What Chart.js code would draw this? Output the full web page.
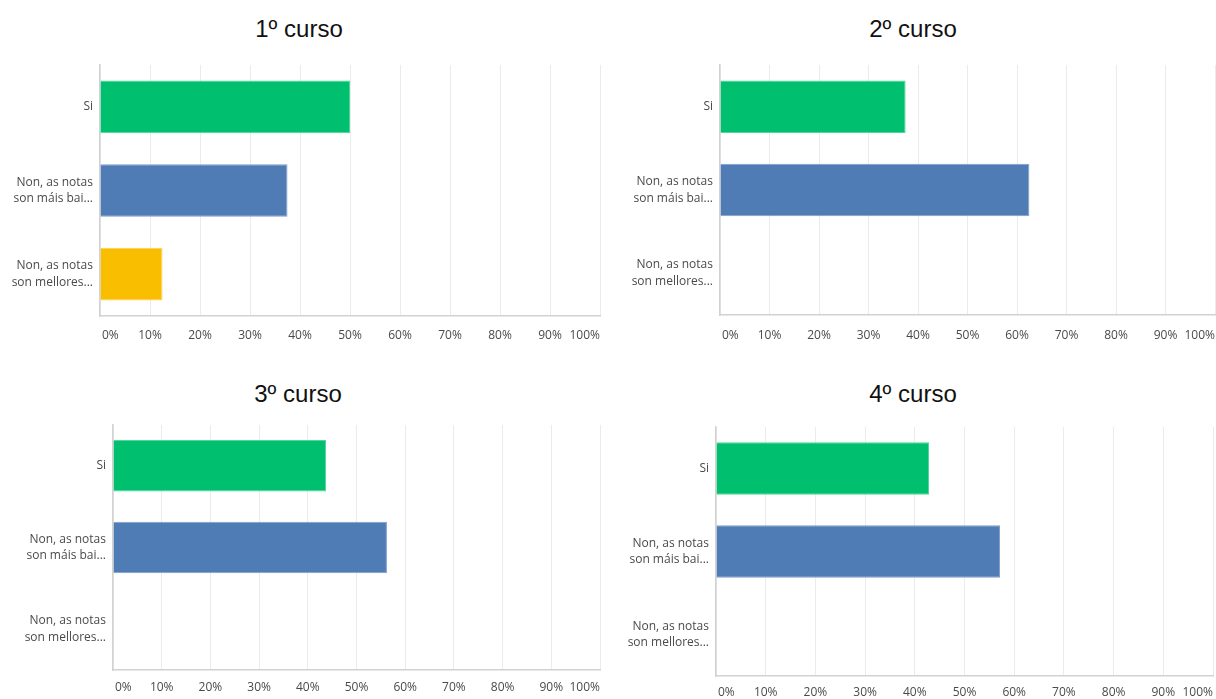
<!DOCTYPE html>
<html>
<head>
<meta charset="utf-8">
<script src="https://cdn.jsdelivr.net/npm/chart.js@4"></script>
<style>
  html, body { margin: 0; padding: 0; background: #fff; overflow: hidden; }
  body { width: 1216px; height: 699px; position: relative; }
  .title { position: absolute; font-family: "Liberation Sans", Arial, sans-serif; font-weight: 400; font-size: 24px; line-height: 24px; color: #111; text-align: center; }
  .box { position: absolute; }
</style>
</head>
<body>
<div class="title" style="left:0; top:17px; width:598px;">1º curso</div>
<div class="title" style="left:614px; top:17px; width:598px;">2º curso</div>
<div class="title" style="left:0; top:382px; width:596px;">3º curso</div>
<div class="title" style="left:614px; top:382px; width:598px;">4º curso</div>

<div class="box" style="left:0; top:60px; width:602px; height:290px;"><canvas id="c1"></canvas></div>
<div class="box" style="left:620px; top:60px; width:597px; height:289px;"><canvas id="c2"></canvas></div>
<div class="box" style="left:13px; top:420px; width:589px; height:284px;"><canvas id="c3"></canvas></div>
<div class="box" style="left:616px; top:422px; width:599px; height:288px;"><canvas id="c4"></canvas></div>

<script>
// answers (same for every course)
const categories = [
    ["Si"],
    ["Non, as notas", "son máis bai..."],
    ["Non, as notas", "son mellores..."]
];
const barColors = ["#00bf6f", "#507cb6", "#f9be00"];
const barEdges = ["#4fd69c", "#7c9dcb", "#fbd055"];

// percentages per course
const curso1 = [50, 37.5, 12.5];
const curso2 = [37.5, 62.5, 0];
const curso3 = [43.75, 56.25, 0];
const curso4 = [42.86, 57.14, 0];

const tickLabels = ["0%", "10%", "20%", "30%", "40%", "50%", "60%", "70%", "80%", "90%", "100%"];

const labelFont = '"Open Sans", "DejaVu Sans", sans-serif';

// draws x tick labels: first left-aligned, last right-aligned, rest centred
const tickLabelPlugin = {
    id: 'tickLabels',
    afterDraw(chart, args, opts) {
        const s = chart.scales.x;
        const ctx = chart.ctx;
        ctx.save();
        ctx.font = '12px ' + labelFont;
        ctx.fillStyle = '#4a4a4a';
        ctx.textBaseline = 'middle';
        const last = s.ticks.length - 1;
        s.ticks.forEach(function (t, i) {
            const x = s.getPixelForValue(t.value);
            ctx.textAlign = i === 0 ? 'left' : (i === last ? 'right' : 'center');
            ctx.fillText(tickLabels[i], i === 0 ? x + 2 : x, s.top + opts.offset);
        });
        ctx.restore();
    }
};

function makeChart(id, values, labelOffset) {
    const ctx = document.getElementById(id).getContext('2d');
    return new Chart(ctx, {
        type: 'bar',
        data: {
            labels: categories,
            datasets: [{
                data: values,
                backgroundColor: barColors,
                borderColor: barEdges,
                borderWidth: 1,
                borderSkipped: 'left',
                barPercentage: 0.63,
                categoryPercentage: 1
            }]
        },
        plugins: [tickLabelPlugin],
        options: {
            indexAxis: 'y',
            responsive: true,
            maintainAspectRatio: false,
            animation: false,
            layout: { padding: { top: 5, right: 2, left: 0, bottom: 0 } },
            plugins: {
                legend: { display: false },
                tooltip: { enabled: false },
                tickLabels: { offset: labelOffset }
            },
            scales: {
                x: {
                    min: 0,
                    max: 100,
                    ticks: { display: false, stepSize: 10 },
                    grid: { color: '#ebebeb', lineWidth: 1, drawTicks: false },
                    border: { display: true, color: '#d2d2d2', width: 1.5 },
                    afterFit: function (s) { s.height = 34; }
                },
                y: {
                    ticks: {
                        color: '#4a4a4a',
                        padding: 7,
                        font: { family: labelFont, size: 12, lineHeight: 1.4 }
                    },
                    grid: { drawOnChartArea: false, drawTicks: false },
                    border: { display: true, color: '#d2d2d2', width: 1.5 },
                    afterFit: function (s) {
                        s.width = 100;
                        s.paddingTop = 0;
                        s.paddingBottom = 0;
                    }
                }
            }
        }
    });
}

makeChart('c1', curso1, 20);
makeChart('c2', curso2, 21);
makeChart('c3', curso3, 18);
makeChart('c4', curso4, 17);
</script>
</body>
</html>
